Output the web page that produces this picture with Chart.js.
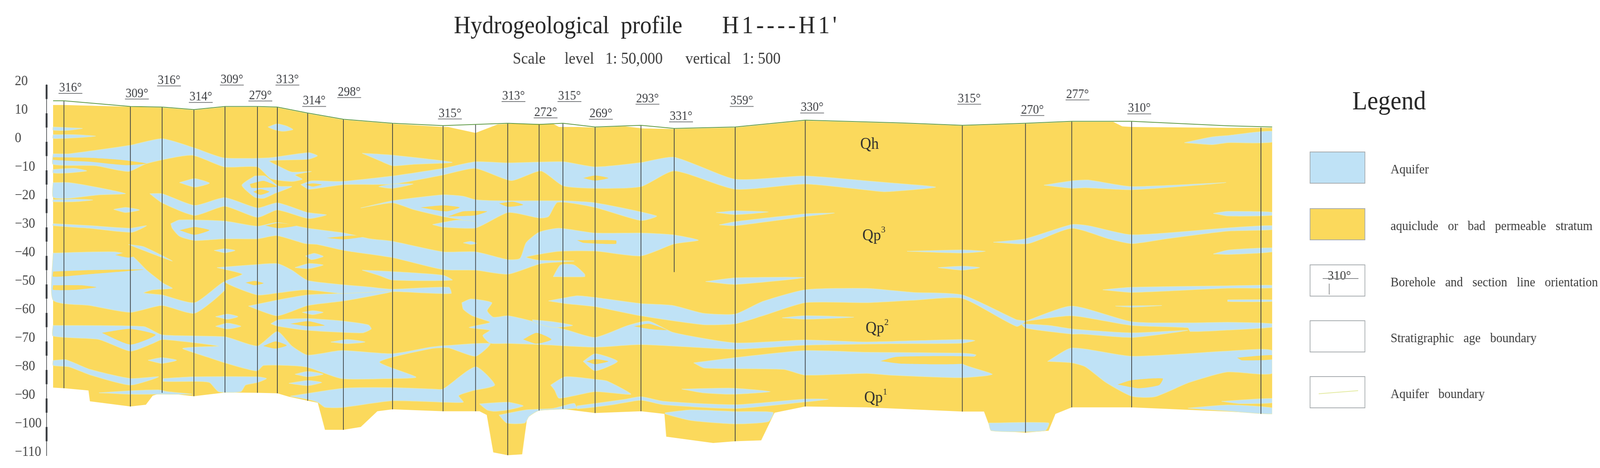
<!DOCTYPE html>
<html>
<head>
  <title>Hydrogeological profile H1----H1'</title>
  <script src="https://cdn.jsdelivr.net/npm/chart.js"></script>
  <style>
    html, body { margin: 0; height: 100%; overflow: hidden; background: #fff; }
  </style>
</head>
<body>
  <canvas id="profile" width="4431" height="1198" style="display:block;width:100vw;height:100vh"></canvas>

  <script>
    // all points are [distance along section, elevation m]
    const groundLine = [[14,14.4],[44,14.4],[228,12.4],[316,12.2],[404,11.3],[490,12.4],[580,12.4],[635,12.2],[719,10.1],[818,7.9],[954,6.5],[1094,5.7],[1184,6.1],[1273,6.5],[1360,6.1],[1426,6.5],[1515,5.2],[1642,5.8],[1734,4.7],[1903,5.2],[2097,7.6],[2367,6.6],[2532,5.8],[2707,6.5],[2835,7.2],[3001,7.2],[3267,5.6],[3390,5.2]];
    const sectionTop = [[14,12.9],[44,12.9],[228,12.3],[316,12],[404,11.1],[490,12.2],[580,12.2],[635,12],[719,9.9],[818,7.7],[954,6.3],[1094,5.2],[1108,5.2],[1184,3.1],[1245,6.1],[1273,6.3],[1399,6.3],[1415,5.2],[1465,5.2],[1515,5],[1598,5.4],[1647,4.7],[1734,4.5],[1903,5],[2097,7.4],[2367,6.4],[2532,5.6],[2707,6.3],[2835,7],[2950,7],[2975,5.4],[3001,5.2],[3267,4.9],[3390,4.9]];
    const sectionBase = [[3390,-95.4],[3267,-94.6],[3001,-93.1],[2835,-93.1],[2790,-95.4],[2771,-101.3],[2707,-102],[2612,-101.3],[2592,-94.6],[2532,-94.6],[2267,-93.1],[2097,-92.8],[2012,-95],[1975,-104.7],[1903,-105],[1842,-105.6],[1712,-103.4],[1707,-95.4],[1642,-94.5],[1515,-95.1],[1426,-93.7],[1360,-94.2],[1328,-95.8],[1313,-109.6],[1273,-109.9],[1233,-108.9],[1215,-95.8],[1195,-94.5],[1094,-94.5],[954,-93.8],[912,-94.5],[866,-100],[818,-101],[767,-101],[747,-91.5],[719,-90.8],[667,-89.4],[635,-88.2],[580,-88],[490,-87.9],[404,-89.2],[316,-88],[290,-89],[271,-92.2],[228,-92.8],[116,-91],[112,-87.2],[44,-86.4],[14,-86.2]];

    const aquiferLenses = [
      [[14,5.2],[66,4.9],[95,4.7],[54,4],[14,4.1]],
      [[14,2.5],[74,2.5],[132,2],[74,1.4],[14,1.2]],
      [[609,5.2],[634,6.3],[659,5.6],[678,4.3],[650,3.7],[626,4.3]],
      [[14,-4.2],[58,-4.2],[228,-1.2],[316,1.1],[404,-2.1],[485,-5.6],[613,-5.6],[721,-3.8],[746,-4.9],[721,-6.1],[613,-6.7],[638,-8.5],[675,-10.6],[729,-10.4],[684,-11.6],[704,-13.1],[675,-13.9],[617,-12.9],[580,-8.8],[489,-8.8],[398,-4.7],[273,-7.6],[223,-10.4],[132,-8.4],[14,-7.9]],
      [[14,-9.7],[74,-9.3],[107,-10.2],[58,-10.9],[14,-10.9]],
      [[364,-14.3],[406,-12.9],[447,-14.5],[406,-15.9]],
      [[572,-12],[601,-12],[638,-15.5],[675,-15.7],[630,-18],[597,-19.8],[572,-19.4],[537,-15.2]],
      [[700,-15],[729,-13.7],[812,-13.9],[954,-12],[1094,-9.3],[1184,-7],[1273,-7.4],[1426,-7],[1515,-8.8],[1642,-7.3],[1734,-5.4],[1903,-13.1],[2097,-12],[2267,-13.7],[2331,-14.4],[2458,-15.9],[2318,-17.5],[2267,-16.9],[2097,-14.8],[1903,-16.6],[1734,-10.2],[1642,-15.7],[1515,-16.3],[1426,-15.4],[1365,-10.2],[1283,-13.6],[1184,-9.3],[1094,-11.6],[954,-14.8],[820,-15],[746,-16.3],[721,-16.6]],
      [[870,-4],[954,-4.7],[1119,-7.2],[1011,-7.9],[954,-8.4],[920,-6.7]],
      [[954,-14.8],[1011,-14.8],[954,-16.3],[916,-15.7]],
      [[14,-14.3],[58,-14.3],[141,-16.1],[215,-18.2],[141,-18.6],[58,-19.8],[14,-19.4]],
      [[14,-20.3],[74,-20.1],[124,-20.4],[74,-21],[14,-21]],
      [[182,-23.7],[215,-23],[253,-23.9],[215,-24.8]],
      [[282,-18.2],[316,-18.2],[406,-22.3],[489,-19.6],[580,-23.2],[635,-21.4],[719,-24.8],[771,-25.6],[721,-26.9],[635,-23.9],[580,-26.5],[489,-22.6],[406,-25.8],[316,-21.4]],
      [[866,-23.2],[954,-20.7],[1094,-18.6],[1150,-19.1],[1184,-20.3],[1258,-20.7],[1423,-20.7],[1515,-21.4],[1685,-26],[1642,-27.6],[1515,-23],[1411,-21.2],[1386,-26.2],[1360,-26.7],[1274,-24.8],[1184,-30.2],[1150,-27.5],[1094,-26.2],[1011,-23.7],[954,-21.4]],
      [[1065,-29],[1130,-27.5],[1184,-28],[1184,-30.2],[1094,-29.9]],
      [[340,-28.7],[364,-27.4],[489,-27.8],[580,-29.6],[634,-28.3],[719,-30.3],[820,-32],[891,-34],[954,-34.9],[1094,-38.6],[1184,-38.6],[1273,-41.3],[1307,-40.9],[1324,-35.4],[1360,-31.7],[1415,-30.3],[1515,-32],[1642,-32],[1730,-32.6],[1801,-34.5],[1734,-35.8],[1642,-40],[1515,-38.3],[1415,-38.4],[1324,-40.4],[1357,-41.5],[1457,-41.8],[1365,-42.7],[1274,-46.4],[1184,-45],[1094,-44.8],[954,-40.6],[820,-38.1],[746,-36],[713,-35.7],[634,-32.9],[580,-34],[489,-34],[406,-34.6],[364,-33.1],[344,-30.3]],
      [[1150,-35.4],[1171,-34.9],[1187,-35.6],[1171,-36]],
      [[1399,-47.3],[1419,-43.2],[1457,-43.2],[1486,-46.4],[1486,-47.3]],
      [[14,-28.7],[116,-29.4],[228,-30.3],[273,-29.4],[232,-31.7],[116,-30.3],[14,-29.4]],
      [[14,-39],[182,-38.6],[232,-40],[273,-45],[319,-49.6],[344,-51.4],[290,-51.9],[265,-53],[315,-53.7],[406,-56.4],[487,-49.1],[490,-51.9],[406,-60.1],[315,-57.4],[228,-59.8],[116,-57.4],[14,-55.5]],
      [[223,-36],[265,-36.8],[344,-41.8],[265,-38.1]],
      [[460,-38.1],[489,-37.5],[518,-38.1],[489,-38.9]],
      [[468,-44.1],[563,-43.2],[635,-42.7],[675,-45],[721,-48.7],[895,-51],[954,-51.7],[1110,-51],[1116,-53.2],[954,-52.5],[820,-53.2],[713,-51.9],[635,-53],[580,-53.7],[490,-49.1],[538,-46.4]],
      [[555,-57.6],[635,-55.5],[719,-53.7],[820,-53.2],[954,-52.5],[818,-55.8],[719,-57.4],[635,-61]],
      [[713,-40],[737,-39.1],[762,-40.2],[729,-41.3]],
      [[684,-44.1],[721,-42.7],[762,-43.2],[721,-44.5]],
      [[870,-45],[954,-45.5],[1094,-46.8],[1119,-48.5],[954,-48.5],[920,-47]],
      [[1146,-56.4],[1171,-55.1],[1229,-56.4],[1216,-59.2],[1233,-61.5],[1274,-61],[1341,-62.9],[1440,-66.1],[1515,-68.6],[1606,-64.4],[1664,-62.9],[1730,-66.8],[1903,-70.5],[2097,-69.5],[2267,-70.2],[2532,-69.3],[2567,-69.7],[2532,-70.6],[2331,-70.8],[2097,-71.3],[1903,-72.7],[1642,-71.1],[1515,-72],[1365,-71.1],[1274,-70.7],[1224,-70.6],[1204,-67.9],[1224,-66.1],[1166,-65.1],[1224,-63.3],[1175,-61],[1150,-58.7]],
      [[1341,-62.4],[1399,-63.1],[1453,-64.4],[1399,-65.1],[1345,-63.3]],
      [[464,-61.3],[497,-60.4],[526,-61.3],[497,-62.2]],
      [[464,-64.7],[497,-63.6],[534,-64.7],[497,-65.6]],
      [[704,-59.8],[733,-59.2],[762,-59.8],[733,-60.6]],
      [[617,-63.8],[638,-62.4],[719,-62],[820,-62.9],[887,-64.2],[895,-65.6],[870,-67],[719,-66.1],[638,-64.7]],
      [[14,-64.4],[265,-64.8],[316,-67.7],[490,-68.4],[580,-71.6],[635,-66.5],[675,-71.6],[719,-74.8],[812,-73.2],[954,-74.3],[1061,-72],[1110,-71.4],[1224,-70.8],[1184,-75.2],[1110,-72.3],[1061,-72.5],[918,-77.2],[1019,-82.5],[954,-83],[812,-83],[713,-78.9],[597,-78.4],[580,-80.3],[555,-79.8],[490,-77.5],[447,-75.7],[373,-72.5],[406,-72],[472,-71.6],[316,-69.3],[290,-70.7],[228,-73.4],[141,-69.3],[14,-68.1]],
      [[14,-76.7],[49,-76.4],[116,-79.8],[228,-83],[306,-82.4],[228,-85.3],[116,-81.7],[58,-78.9],[14,-78.4]],
      [[277,-76.6],[315,-75.7],[356,-76.6],[315,-77.7]],
      [[319,-83],[404,-82.4],[580,-82.4],[605,-83],[580,-84.4],[547,-85.3],[534,-87.6],[472,-87.6],[447,-84.4],[404,-84],[319,-84]],
      [[141,-88],[228,-87.3],[306,-87],[331,-87.6],[398,-88.5],[316,-88.5],[223,-88.5]],
      [[684,-81.5],[719,-80.5],[762,-81.5],[719,-82.4]],
      [[667,-84.7],[719,-83.7],[758,-84.4],[719,-85.5]],
      [[783,-70.2],[829,-69.3],[878,-70.2],[829,-70.8]],
      [[671,-89.2],[820,-86.4],[954,-86.2],[1067,-86.7],[1094,-86.7],[1184,-78.9],[1237,-85.3],[1175,-87.3],[1137,-89],[1150,-91.3],[1094,-91.3],[954,-90.8],[818,-93.1],[767,-93.1],[747,-91.3],[719,-90.3]],
      [[1195,-91.9],[1273,-91.3],[1316,-92.6],[1274,-94],[1237,-94.5],[1216,-94]],
      [[1249,-95.8],[1324,-94],[1399,-93.5],[1457,-91.7],[1463,-93.4],[1360,-94.2],[1332,-96.3],[1320,-98.6],[1270,-98.6]],
      [[1392,-85.3],[1432,-82.4],[1515,-83.3],[1548,-83.9],[1614,-88.5],[1515,-87.6],[1415,-89.9],[1403,-87.1]],
      [[1482,-77],[1515,-74.3],[1577,-77],[1515,-80.3]],
      [[1386,-55.8],[1465,-54],[1515,-54.6],[1639,-56.7],[1730,-57.4],[1813,-60.1],[1903,-60.4],[1979,-56],[2097,-51.9],[2267,-51.4],[2395,-52.8],[2532,-53.7],[2682,-62.4],[2707,-62.9],[2682,-64.7],[2532,-54.9],[2401,-55.5],[2267,-56.4],[2097,-56.4],[1979,-61],[1903,-63.8],[1813,-64.1],[1641,-61],[1515,-57.8],[1432,-56.7]],
      [[2707,-62.9],[2835,-57.6],[3001,-63.1],[3160,-63.5],[3267,-63.3],[3390,-63.8],[3390,-65],[3267,-66],[3163,-66.5],[3157,-65.2],[3001,-64.4],[2835,-61]],
      [[2694,-63.8],[2771,-64.4],[2835,-65.6],[3001,-67],[3157,-66.1],[3001,-68.6],[2864,-67.4],[2835,-67.4],[2707,-65.3]],
      [[2768,-77],[2835,-72.3],[3001,-75.2],[3267,-73.4],[3390,-73.2],[3390,-81.2],[3267,-80.7],[3160,-84.4],[3065,-89.4],[3001,-89.2],[2930,-84.4],[2873,-78.9],[2835,-77.5]],
      [[3157,-93.4],[3267,-92.3],[3390,-93.3],[3390,-95.4],[3267,-94.4]],
      [[3250,-91],[3390,-90],[3390,-91.5],[3300,-91.8]],
      [[3147,-0.3],[3224,1.7],[3267,2.2],[3390,3.7],[3390,-0.1],[3267,-0.3],[3224,-1]],
      [[2758,-15.2],[2835,-13.7],[2880,-13.4],[3001,-15.7],[3262,-14.3],[3001,-16.8],[2873,-16.1],[2835,-16.3]],
      [[3227,-25.1],[3267,-24.4],[3390,-24.7],[3390,-25.8],[3267,-26]],
      [[2618,-35.2],[2707,-34],[2835,-29],[2880,-29.4],[3001,-32.6],[3267,-30.2],[3390,-29.4],[3390,-30.8],[3267,-31.3],[3096,-34],[3001,-35.7],[2937,-34],[2835,-30.3],[2714,-35.7]],
      [[2379,-38.4],[2532,-37.9],[2596,-38.4],[2532,-39]],
      [[2465,-44.1],[2532,-43.6],[2580,-44.1],[2532,-45]],
      [[3227,-39.3],[3267,-38],[3390,-37.2],[3390,-38.6],[3267,-39.5]],
      [[2921,-51.9],[3001,-51],[3267,-50.5],[3390,-50.3],[3390,-51.2],[3267,-51.3],[3001,-52.8]],
      [[2956,-57.6],[3084,-57.4],[3001,-58]],
      [[3267,-55.4],[3390,-55.4],[3390,-56],[3267,-56]],
      [[1788,-77.5],[1903,-75.7],[2097,-73.2],[2267,-73.8],[2532,-74.1],[2570,-74.8],[2532,-77.8],[2615,-81.5],[2532,-82.7],[2331,-81.8],[2267,-81.2],[2097,-81.8],[2037,-79.8],[1817,-79.3]],
      [[1755,-86.7],[1896,-86.4],[2000,-87.6],[1896,-88.5],[1813,-88]],
      [[2033,-61.7],[2097,-61],[2232,-61.5],[2097,-62.2]],
      [[1821,-49],[1903,-47.7],[2095,-47.6],[1903,-50]],
      [[1859,-29.1],[1903,-28],[2095,-25.3],[2178,-25],[2095,-26.2],[1903,-29.4]],
      [[1850,-24.8],[1903,-24.2],[1995,-24.6],[1903,-25.5]],
      [[1465,-92.6],[1598,-90.3],[1642,-89.4],[1705,-91],[1903,-92.2],[2097,-90.2],[2161,-90.3],[2097,-91.2],[1903,-93.5],[1705,-92.2],[1642,-90.6],[1564,-92.2],[1465,-93.6]],
      [[1709,-95],[1780,-94],[1903,-94.6],[2008,-94.9],[1995,-98.1],[1903,-98.9],[1780,-97.7],[1709,-95.4]],
      [[2605,-98.6],[2771,-98.6],[2761,-101.3],[2612,-101.3]]
    ];

    // clay pockets that sit inside the aquifers
    const clayLenses = [
      [[14,-5.4],[116,-5.6],[199,-6.3],[273,-7.6],[215,-8.2],[116,-7],[14,-6.3]],
      [[559,-14.8],[597,-13.7],[634,-15.7],[597,-16.1],[563,-16.1]],
      [[568,-17.5],[588,-16.6],[613,-17.5],[588,-18.6]],
      [[713,-15],[733,-14.6],[758,-15],[733,-15.7]],
      [[1482,-12.7],[1515,-11.8],[1552,-12.7],[1515,-13.6]],
      [[1032,-23],[1094,-22.3],[1140,-23],[1102,-24.4]],
      [[1108,-26.2],[1150,-24.4],[1216,-24.4],[1184,-25.8]],
      [[1249,-21.6],[1287,-21],[1316,-22.1],[1274,-22.8]],
      [[364,-31],[406,-29.9],[447,-31],[406,-32.6]],
      [[601,-29.4],[638,-28.5],[688,-29.4],[638,-30.3]],
      [[771,-33.7],[837,-32.9],[882,-33.1],[820,-34.2]],
      [[1465,-34.5],[1573,-34.6],[1573,-35.8],[1482,-35.4]],
      [[14,-45.5],[116,-45],[265,-44.8],[116,-46.4],[14,-47.3]],
      [[14,-50.3],[91,-50.3],[134,-51],[74,-51.9],[14,-51.9]],
      [[186,-39.7],[223,-38.6],[257,-39.3],[223,-40.6]],
      [[393,-54],[406,-53],[416,-54],[406,-54.9]],
      [[547,-49.4],[572,-48.8],[597,-49.6],[572,-50.3]],
      [[1316,-69.3],[1353,-67],[1394,-69.3],[1353,-70.8]],
      [[1622,-64.7],[1664,-63.8],[1714,-66],[1664,-65.6]],
      [[671,-63.8],[721,-62.9],[766,-64.4],[721,-64.7]],
      [[149,-67],[228,-65.6],[298,-67.7],[228,-71.1]],
      [[596,-71.6],[630,-70],[661,-71.4],[630,-72.5]],
      [[1491,-77],[1515,-76.2],[1552,-77],[1515,-78]],
      [[2962,-85.1],[3001,-83.6],[3087,-83],[3077,-85.3],[3020,-86.4]],
      [[3293,-75.7],[3390,-74.8],[3390,-76.3],[3306,-76.6]],
      [[2305,-76.9],[2350,-75.4],[2567,-75.4],[2532,-77.8],[2363,-77.8]]
    ];

    const boreholeDist = [44,228,316,404,490,580,635,719,818,954,1094,1184,1273,1360,1426,1515,1642,1734,1903,2097,2532,2707,2835,3001,3359];
    const boreholeTop = [14.4,12.4,12.2,11.3,12.4,12.4,12.2,10.1,7.9,6.5,5.7,6.1,6.5,6.1,6.5,5.2,5.8,4.7,5.2,7.6,5.8,6.5,7.2,7.2,5];
    const boreholeBottom = [-86.4,-92.8,-88,-89.2,-87.9,-88,-88.2,-90.8,-101,-93.8,-94.5,-94.5,-109.9,-94.2,-93.7,-95.1,-94.5,-45.7,-105,-92.8,-94.6,-102,-93.1,-93.1,-95.4];

    const bearingLabels = ['316°','309°','316°','314°','309°','279°','313°','314°','298°','315°','313°','272°','315°','269°','293°','331°','359°','330°','315°','270°','277°','310°'];
    const bearingDist = [62,246,335,423,509,588,663,737,834,1113,1289,1378,1444,1531,1660,1753,1921,2116,2551,2726,2851,3022];
    const bearingElev = [17,15,19.6,13.8,19.9,14.3,19.9,12.4,15.5,8,14.1,8.4,14.1,7.9,13.2,7,12.4,10.1,13.2,9.2,14.7,9.8];

    const ageNames = ['Qh','Qp','Qp','Qp'];
    const ageSup = ['','3','2','1'];
    const ageDist = [2275,2281,2290,2286];
    const ageElev = [-0.6,-32.6,-65,-89.4];

    const legendNames = ['Aquifer','aquiclude or bad permeable stratum','Borehole and section line orientation','Stratigraphic age boundary','Aquifer boundary'];

    const BLUE = '#bfe2f6', YELLOW = '#fbd95c', SERIF = '"Liberation Serif", serif';

    function polygon(pts, color, edge, tension) {
      return {
        data: pts.concat([pts[0]]).map(p => ({ x: p[0], y: p[1] })),
        showLine: true, pointRadius: 0, fill: 'shape', backgroundColor: color,
        borderColor: edge, borderWidth: edge ? 1.5 : 0, tension: tension || 0
      };
    }

    const layers = [];
    layers.push(polygon(sectionTop.concat(sectionBase), YELLOW));
    aquiferLenses.forEach(p => layers.push(polygon(p, BLUE, '#dfe9c0', 0.2)));
    clayLenses.forEach(p => layers.push(polygon(p, YELLOW, null, 0.2)));
    boreholeDist.forEach((d, i) => {
      layers.push({
        data: [{ x: d, y: boreholeTop[i] }, { x: d, y: boreholeBottom[i] }],
        showLine: true, pointRadius: 0, borderColor: '#3c4044', borderWidth: 2
      });
    });
    layers.push({
      data: groundLine.map(p => ({ x: p[0], y: p[1] })),
      showLine: true, pointRadius: 0, borderColor: '#5f9a45', borderWidth: 2
    });
    // chart.js paints lower order on top
    layers.forEach((l, i) => { l.order = layers.length - i; });

    const annotations = {
      id: 'annotations',
      afterDatasetsDraw(chart) {
        const { ctx, scales: { x, y } } = chart;
        ctx.save();
        ctx.textBaseline = 'alphabetic';

        // scale bar, alternating thick blocks of 5 m
        ctx.strokeStyle = '#33363a';
        ctx.lineWidth = 5;
        for (let v = 20; v > -110; v -= 10) {
          ctx.beginPath();
          ctx.moveTo(x.left, y.getPixelForValue(v));
          ctx.lineTo(x.left, y.getPixelForValue(v - 5));
          ctx.stroke();
        }

        // bearing at each borehole
        ctx.font = '33px ' + SERIF;
        ctx.textAlign = 'center';
        bearingLabels.forEach((t, i) => {
          const px = x.getPixelForValue(bearingDist[i]), py = y.getPixelForValue(bearingElev[i]);
          ctx.fillStyle = '#3a3c40';
          ctx.fillText(t, px, py - 5);
          ctx.strokeStyle = '#77797c';
          ctx.lineWidth = 2;
          ctx.beginPath();
          ctx.moveTo(px - 33, py);
          ctx.lineTo(px + 33, py);
          ctx.stroke();
        });

        // stratigraphic ages
        ctx.fillStyle = '#2e2e2e';
        ageNames.forEach((t, i) => {
          const px = x.getPixelForValue(ageDist[i]), py = y.getPixelForValue(ageElev[i]);
          ctx.font = '42px ' + SERIF;
          ctx.textAlign = 'center';
          ctx.fillText(t, px, py + 14);
          if (ageSup[i]) {
            ctx.font = '24px ' + SERIF;
            ctx.textAlign = 'left';
            ctx.fillText(ageSup[i], px + 26, py - 6);
          }
        });

        // heading
        ctx.textAlign = 'left';
        ctx.fillStyle = '#262626';
        ctx.font = '64px ' + SERIF;
        ctx.fillText('Hydrogeological  profile', 1257, 85);
        ctx.letterSpacing = '8px';
        ctx.fillText("H1----H1'", 2000, 85);
        ctx.letterSpacing = '0px';
        ctx.fillStyle = '#3a3a3a';
        ctx.font = '42px ' + SERIF;
        ctx.fillText('Scale     level   1: 50,000      vertical   1: 500', 1420, 163);

        // legend
        const boxTop = [389, 534, 678, 821, 964];
        const boxFill = [BLUE, YELLOW, '#fff', '#fff', '#fff'];
        ctx.fillStyle = '#262626';
        ctx.font = '68px ' + SERIF;
        ctx.fillText('Legend', 3745, 280);
        ctx.font = '34px ' + SERIF;
        ctx.wordSpacing = '18px';
        boxTop.forEach((top, i) => {
          ctx.fillStyle = boxFill[i];
          ctx.fillRect(3628, top, 152, 80);
          ctx.strokeStyle = '#a6abae';
          ctx.lineWidth = 2;
          ctx.strokeRect(3628, top, 152, 80);
          ctx.fillStyle = '#3a3a3a';
          ctx.fillText(legendNames[i], 3851, top + 55);
        });
        ctx.wordSpacing = '0px';
        ctx.textAlign = 'center';
        ctx.font = '34px ' + SERIF;
        ctx.fillStyle = '#3a3a3a';
        ctx.fillText('310°', 3709, 716);
        ctx.strokeStyle = '#8a8c8e';
        ctx.beginPath();
        ctx.moveTo(3663, 713); ctx.lineTo(3762, 713);
        ctx.moveTo(3681, 726); ctx.lineTo(3681, 754);
        ctx.stroke();
        ctx.strokeStyle = '#e3ea9f';
        ctx.beginPath();
        ctx.moveTo(3652, 1008); ctx.lineTo(3761, 1000);
        ctx.stroke();
        ctx.restore();
      }
    };

    new Chart(document.getElementById('profile'), {
      type: 'scatter',
      data: { datasets: layers },
      plugins: [annotations],
      options: {
        responsive: false,
        animation: false,
        devicePixelRatio: 1,
        layout: { padding: { left: 41, top: 217, right: 908, bottom: 32 } },
        plugins: { legend: { display: false }, tooltip: { enabled: false } },
        scales: {
          x: { type: 'linear', min: -4, max: 3390, display: false },
          y: {
            type: 'linear', min: -110, max: 20,
            afterFit(scale) { scale.width = 88; },
            grid: { display: false, drawTicks: false },
            border: { display: true, color: '#55585c', width: 2 },
            ticks: {
              stepSize: 10, crossAlign: 'far', padding: 0, labelOffset: -8,
              color: '#454545', font: { family: 'Liberation Serif', size: 36 },
              callback: v => String(v).replace('-', '\u2212')
            }
          }
        }
      }
    });
  </script>
</body>
</html>
